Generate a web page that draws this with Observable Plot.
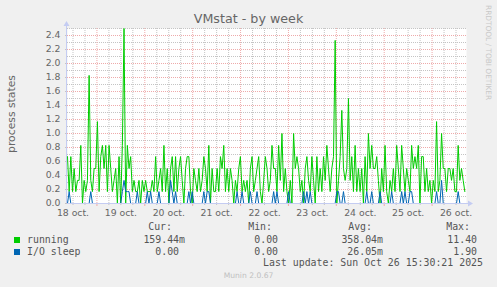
<!DOCTYPE html>
<html><head><meta charset="utf-8">
<script src="https://cdn.jsdelivr.net/npm/d3@7"></script>
<script src="https://cdn.jsdelivr.net/npm/@observablehq/plot@0.6"></script>
<style>
html,body{margin:0;padding:0;background:#f0f0f0;}
#wrap{position:relative;width:497px;height:287px;background:#f0f0f0;overflow:hidden;font-family:"DejaVu Sans",sans-serif;color:#666;}
#wrap svg{position:absolute;left:0;top:0;}
.abs{position:absolute;white-space:pre;line-height:12px;}
.mono{font-family:"DejaVu Sans Mono",monospace;font-size:9.9px;color:#555;}
</style></head><body><div id="wrap"></div>
<script>
const title = "VMstat - by week";
const yLabel = "process states";
const watermark = "RRDTOOL / TOBI OETIKER";
const footer = "Munin 2.0.67";
const lastUpdate = "Last update: Sun Oct 26 15:30:21 2025";
const seriesNames = ["running", "I/O sleep"];
const seriesColors = ["#00cc00", "#0066b3"];
const statHeaders = ["Cur:", "Min:", "Avg:", "Max:"];
const statsRunning = ["159.44m", "0.00 ", "358.04m", "11.40 "];
const statsSleep = ["0.00 ", "0.00 ", "26.05m", "1.90 "];
const dayNumbers = [18, 19, 20, 21, 22, 23, 24, 25, 26];
const dayLabels = ["18 oct.", "19 oct.", "20 oct.", "21 oct.", "22 oct.", "23 oct.", "24 oct.", "25 oct.", "26 oct."];
const yTickValues = [0, 0.2, 0.4, 0.6, 0.8, 1.0, 1.2, 1.4, 1.6, 1.8, 2.0, 2.2, 2.4];
const yMinorValues = [0.1, 0.3, 0.5, 0.7, 0.9, 1.1, 1.3, 1.5, 1.7, 1.9, 2.1, 2.3, 2.5];
const startTime = Date.UTC(2025, 9, 18, 9, 15);
const endTime = Date.UTC(2025, 9, 26, 17, 15);
const stepMinutes = 50;

const running = [
0.67,0.17,0.67,0.17,0.5,0.17,0.33,0.33,0.83,0,0.33,0.17,0.33,1.83,0.33,0.17,0.5,0.5,1.17,0.17,
0.67,0.83,0.5,0.83,0.17,0.83,0.5,0.17,0.33,0.5,0,0.67,0,0.83,2.5,0,0.83,0.5,0.67,0.17,0.33,
0.17,0.17,0.33,0,0.33,0.17,0.33,0.17,0.17,0.17,0.33,0.17,0.67,0.17,0.33,0.5,0.17,0.83,0.17,0.5,
0,0.5,0.67,0.17,0.67,0.17,0.5,0.67,0.33,0,0.5,0.67,0.67,0.17,0,0.5,0.33,0.17,0.5,0.17,0.33,0.67,
0.5,0.17,0.83,0,0.5,0.17,0.17,0.5,0.17,0.67,0.5,0.83,0.17,0.5,0.17,0.5,0.33,0,0.33,0.17,0.5,
0.67,0.17,0.33,0.17,0.33,0,0.5,0.67,0.17,0.33,0.5,0.67,0.17,0,0.33,0.67,0.5,0.17,0.33,0.83,0.5,
0.5,0.17,0.83,0.33,1.0,0.17,0.5,0.17,0,0.33,0,1.0,0.5,0.67,0.5,0.17,0.33,0,0.5,0.67,0.33,
0.17,0.67,0.33,0,0.67,0.17,0.5,0.17,0.67,0.33,0.83,0.5,0.17,0.5,0.67,2.33,0,0.33,0.67,1.33,0.5,
0.33,0.5,1.5,0.33,0.67,0.17,0.83,0.17,0.5,0.17,0.5,0,0.67,0.17,1.0,0.5,0.83,0.5,0.5,0.67,0.33,
0,0.5,0.17,0.83,0.17,0,0.33,0.17,0.5,0.17,0.83,0.5,0.17,0.83,0.5,0.17,0.5,0.33,0.17,0.83,0.5,
0.67,0.5,0.83,0,0.67,0.67,0.17,0.5,0.17,0.33,0,0.33,0.17,1.17,0.17,0.33,1.0,0.5,0.5,0.17,
0.5,0.5,0.33,0.5,0.17,0.17,0.83,0.33,0.5,0.33,0.17
];
const ioSleep = [
0,0.17,0,0,0,0,0,0,0,0,0,0,0,0,0.17,0,0,0,0,0,
0,0,0,0,0,0,0,0,0,0,0,0,0,0.17,0.33,0.17,0.17,0.17,0,0,
0,0,0.17,0,0,0,0,0,0.17,0,0.17,0,0,0,0,0.17,0,0,0,0,
0,0,0.33,0.17,0,0.17,0,0,0,0,0,0,0,0.17,0,0.17,0,0,0,0,
0,0,0.17,0,0.17,0.17,0,0,0,0,0,0,0,0,0,0,0,0,0,0,
0,0,0.17,0,0,0.17,0,0,0,0,0.17,0,0,0,0.17,0,0,0,0,0,
0,0,0,0,0.17,0,0.17,0,0,0,0,0,0,0.17,0,0,0,0,0,0,
0,0,0.17,0,0.17,0,0.17,0,0,0,0,0,0,0,0,0,0,0,0,0,
0,0,0.17,0.17,0,0,0.17,0,0,0,0,0,0,0,0,0,0,0,0,0,
0.17,0,0,0.17,0,0,0,0,0.17,0,0,0,0,0,0,0.17,0,0,0,0,
0,0.17,0,0.17,0,0,0.17,0.17,0,0,0,0,0,0,0,0,0,0,0,0,
0,0,0.17,0,0,0.33,0,0,0,0,0,0,0,0,0,0.17,0,0,0,0
];

const toRows = (vals) => vals.map((v, i) => ({t: new Date(startTime + i * stepMinutes * 60000), v}));
const runRows = toRows(running);
const ioRows = toRows(ioSleep);
const noonTimes = dayNumbers.map(d => new Date(Date.UTC(2025, 9, d, 12)));
const labelByTime = new Map(noonTimes.map((t, i) => [+t, dayLabels[i]]));
const sixHours = d3.utcHour.every(6).range(new Date(startTime), new Date(endTime));
const midnights = sixHours.filter(d => d.getUTCHours() === 0);
const minorTimes = sixHours.filter(d => d.getUTCHours() !== 0);

const gridGray = "#c4c4c4";
const gridRed = "#eeaaaa";
const axisColor = "#c4ccf2";

const chart = Plot.plot({
  width: 497, height: 220,
  marginLeft: 67, marginRight: 31, marginTop: 28, marginBottom: 17,
  style: {background: "transparent", fontFamily: "DejaVu Sans", fontSize: "9.3px", color: "#666", overflow: "visible"},
  x: {type: "utc", domain: [new Date(startTime), new Date(endTime)]},
  y: {domain: [0, 2.5]},
  marks: [
    Plot.frame({fill: "white", stroke: null}),
    Plot.ruleY(yMinorValues, {stroke: gridGray, strokeDasharray: "1,1"}),
    Plot.ruleX(minorTimes, {stroke: gridGray, strokeDasharray: "1,1"}),
    Plot.ruleY(yTickValues.filter(v => v > 0), {stroke: gridRed, strokeDasharray: "1,1"}),
    Plot.ruleX(midnights, {stroke: gridRed, strokeDasharray: "1,1"}),
    Plot.line(runRows, {x: "t", y: "v", stroke: seriesColors[0], strokeWidth: 1}),
    Plot.line(ioRows, {x: "t", y: "v", stroke: seriesColors[1], strokeWidth: 1}),
    Plot.axisY({ticks: yTickValues, tickFormat: d => d.toFixed(1), tickSize: 2, stroke: gridGray, tickPadding: 5, label: null}),
    Plot.axisX({ticks: noonTimes, tickFormat: d => labelByTime.get(+d), tickSize: 0, tickPadding: 6, label: null}),
    Plot.axisX({ticks: midnights, tickFormat: () => "", tickSize: 3, stroke: gridRed, label: null}),
    Plot.axisX({ticks: minorTimes, tickFormat: () => "", tickSize: 2, stroke: gridGray, label: null})
  ]
});

const wrap = document.getElementById("wrap");
wrap.appendChild(chart);

// axis lines with arrows (rrdtool style), positioned through Plot's scales
const xs = chart.scale("x"), ys = chart.scale("y");
const xa = xs.apply(new Date(startTime)), xb = xs.apply(new Date(endTime));
const yb = ys.apply(0), yt = ys.apply(2.5);
const svg = d3.select(chart);
const g = svg.append("g");
g.append("line").attr("x1", xa).attr("x2", xb + 3).attr("y1", yb + 0.5).attr("y2", yb + 0.5).attr("stroke", axisColor);
g.append("line").attr("x1", xa - 0.5).attr("x2", xa - 0.5).attr("y1", yb).attr("y2", yt - 3).attr("stroke", axisColor);
g.append("path").attr("d", `M${xb + 2},${yb - 2.5}L${xb + 7},${yb + 0.5}L${xb + 2},${yb + 3.5}Z`).attr("fill", axisColor);
g.append("path").attr("d", `M${xa - 3.5},${yt - 2}L${xa - 0.5},${yt - 7}L${xa + 2.5},${yt - 2}Z`).attr("fill", axisColor);

function addText(txt, cls, style) {
  const d = document.createElement("div");
  d.className = "abs " + (cls || "");
  d.textContent = txt;
  Object.assign(d.style, style);
  wrap.appendChild(d);
  return d;
}
addText(title, "", {left: "0px", width: "497px", textAlign: "center", top: "13px", fontSize: "12.7px", color: "#666"});
addText(yLabel, "", {left: "12px", top: "114px", fontSize: "10.8px", color: "#666", transform: "translate(-50%,-50%) rotate(-90deg)"});
addText(watermark, "", {left: "493px", top: "5px", fontSize: "7.4px", color: "#c8c8c8", transformOrigin: "0 0", transform: "rotate(90deg)", lineHeight: "9px"});

const headerRight = [172, 272, 372, 470];
const valueRight = [185, 284, 383, 483];
statHeaders.forEach((h, i) => addText(h, "mono", {right: (497 - headerRight[i]) + "px", top: "221px", textAlign: "right"}));
[statsRunning, statsSleep].forEach((row, r) => {
  const top = 234 + r * 12;
  const sq = document.createElement("div");
  Object.assign(sq.style, {position: "absolute", left: "14px", top: (top + 3) + "px", width: "6px", height: "6px", background: seriesColors[r]});
  wrap.appendChild(sq);
  addText(seriesNames[r], "mono", {left: "27px", top: top + "px"});
  row.forEach((v, i) => addText(v, "mono", {right: (497 - valueRight[i]) + "px", top: top + "px", textAlign: "right"}));
});
addText(lastUpdate, "mono", {right: (497 - 483) + "px", top: "257px", textAlign: "right"});
addText(footer, "", {left: "0px", width: "497px", textAlign: "center", top: "270px", fontSize: "7.6px", color: "#c0c0c0"});
</script></body></html>
